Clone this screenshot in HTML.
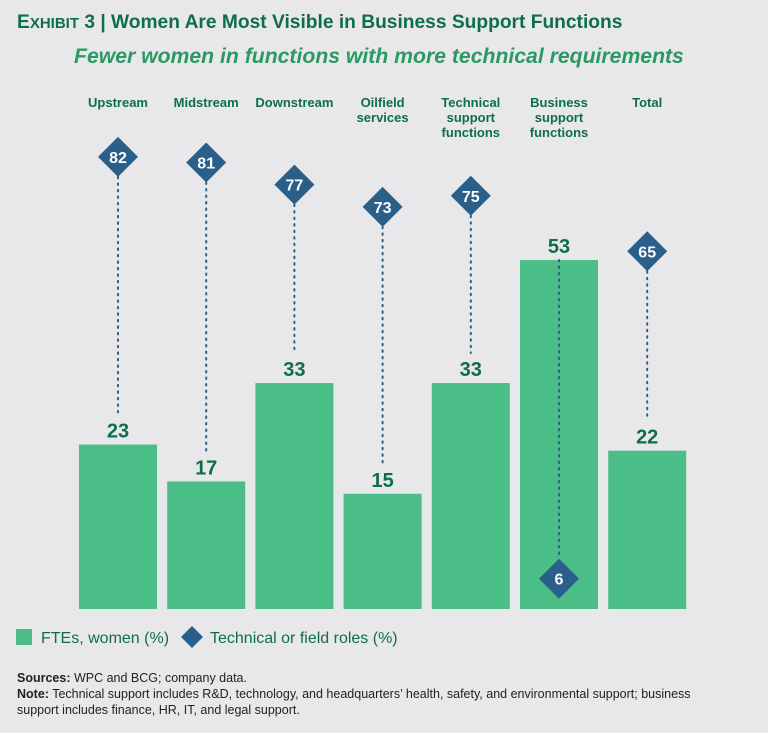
<!DOCTYPE html>
<html><head><meta charset="utf-8"><style>
body{margin:0;background:#e8e8ea;font-family:"Liberation Sans",sans-serif;}
#wrap{position:relative;width:768px;height:733px;overflow:hidden;background:#e8e8ea;}
.t{position:absolute;white-space:nowrap;}
</style></head><body>
<div id="wrap">
<div class="t" style="left:17px;top:12px;font-size:19.2px;font-weight:bold;color:#0e6e4a;"><span>E</span><span style="font-size:15px">XHIBIT</span> 3 | Women Are Most Visible in Business Support Functions</div>
<div class="t" style="left:74px;top:45px;font-size:21.2px;font-weight:bold;font-style:italic;color:#2a9a62;">Fewer women in functions with more technical requirements</div>
<svg id="chart" width="768" height="733" style="position:absolute;left:0;top:0"></svg>
<div class="t" style="left:17px;top:670px;font-size:12.5px;color:#222;line-height:16px;"><b>Sources:</b> WPC and BCG; company data.<br><b>Note:</b> Technical support includes R&amp;D, technology, and headquarters’ health, safety, and environmental support; business<br>support includes finance, HR, IT, and legal support.</div>
</div>
<script>
const categories=[["Upstream"],["Midstream"],["Downstream"],["Oilfield","services"],["Technical","support","functions"],["Business","support","functions"],["Total"]];
const ftes=[23,17,33,15,33,53,22];
const technical=[82,81,77,73,75,6,65];
const NS="http://www.w3.org/2000/svg";
const svg=document.getElementById('chart');
function mk(t,a){const e=document.createElementNS(NS,t);for(const k in a)e.setAttribute(k,a[k]);svg.appendChild(e);return e;}
const x0=79,step=88.2,bw=78,bottom=609;
function xs(i){return x0+i*step;}
function yBar(v){return 586-v*6.15;}
function yDia(v){return 612-v*5.55;}
categories.forEach((c,i)=>{
  const cx=xs(i)+bw/2;
  const top=yBar(ftes[i]);
  const r=mk('rect',{x:xs(i),y:top,width:bw,height:bottom-top,fill:'#4bbe88'});
  
  
  const lb=mk('text',{x:cx,y:top-7,'text-anchor':'middle','font-size':20,'font-weight':'bold',fill:'#0e6e4a','font-family':'Liberation Sans, sans-serif'});
  lb.textContent=ftes[i];
  
  
  c.forEach((w,j)=>{
    const t=mk('text',{x:cx,y:107+j*15,'text-anchor':'middle','font-size':13,'font-weight':'bold',fill:'#0e6e4a','font-family':'Liberation Sans, sans-serif'});
    t.textContent=w;
    
    
  });
  const dy=yDia(technical[i]);
  let y1,y2;
  if(dy<top){y1=dy+20;y2=top-30;}else{y1=top;y2=dy-20;}
  const ln=mk('line',{x1:cx,x2:cx,y1:y1,y2:y2,stroke:'#2a5f8a','stroke-width':2,'stroke-dasharray':'1.5 5','stroke-linecap':'round'});
  
  
  const d=mk('polygon',{points:`${cx},${dy-20} ${cx+20},${dy} ${cx},${dy+20} ${cx-20},${dy}`,fill:'#2a5f8a'});
  
  
  const dt=mk('text',{x:cx,y:dy+6,'text-anchor':'middle','font-size':16,'font-weight':'bold',fill:'#fff','font-family':'Liberation Sans, sans-serif'});
  dt.textContent=technical[i];
  
  
});
const l1=mk('rect',{x:16,y:629,width:16,height:16,fill:'#4bbe88'});


const lt1=mk('text',{x:41,y:643,'font-size':16,fill:'#0e6e4a','font-family':'Liberation Sans, sans-serif'});
lt1.textContent='FTEs, women (%)';


const l2=mk('polygon',{points:'192,626 203,637 192,648 181,637',fill:'#2a5f8a'});


const lt2=mk('text',{x:210,y:643,'font-size':16,fill:'#0e6e4a','font-family':'Liberation Sans, sans-serif'});
lt2.textContent='Technical or field roles (%)';


</script>
</body></html>
